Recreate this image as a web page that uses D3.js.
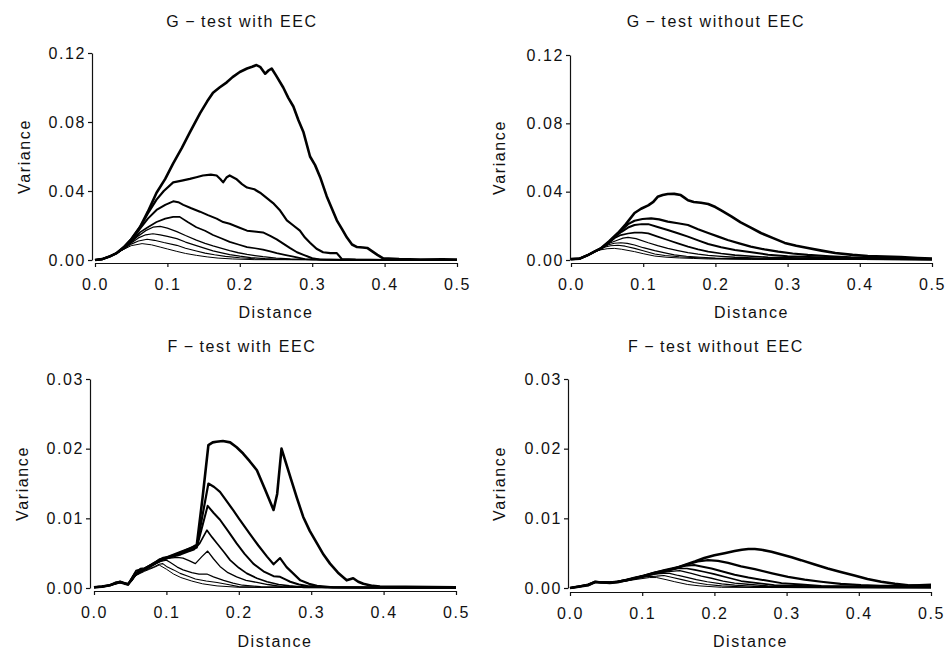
<!DOCTYPE html>
<html>
<head>
<meta charset="utf-8">
<script src="https://cdn.jsdelivr.net/npm/d3@7"></script>
<style>
  body { margin: 0; background: #fff; }
  svg { display: block; font-family: "Liberation Sans", Arial, sans-serif; }
  .tick text { font-size: 16px; letter-spacing: 1.6px; fill: #111; }
  .tick line, .domain { stroke: #111; stroke-width: 1.2; }
  .lbl { font-size: 16px; letter-spacing: 1.6px; fill: #111; }
</style>
</head>
<body>
<svg id="chart" width="948" height="652"></svg>
<script>
// tick labels
const distanceTicks = [0, 0.1, 0.2, 0.3, 0.4, 0.5];
const gTicks = [0, 0.04, 0.08, 0.12];
const fTicks = [0, 0.01, 0.02, 0.03];
const panelTitles = ["G\u2009\u2212\u2009test  with  EEC", "G\u2009\u2212\u2009test  without  EEC",
                     "F\u2009\u2212\u2009test  with  EEC", "F\u2009\u2212\u2009test  without  EEC"];

// [distance, variance] per curve, top curve first
const gWithEEC = [
  [[0,0],[.01,.0005],[.02,.002],[.03,.004],[.04,.0075],[.05,.012],[.062,.019],[.073,.028],[.085,.039],[.097,.047],[.108,.056],[.12,.065],[.131,.074],[.145,.085],[.155,.092],[.163,.097],[.172,.100],[.182,.103],[.19,.106],[.2,.109],[.21,.111],[.217,.112],[.223,.113],[.228,.112],[.235,.108],[.24,.110],[.244,.111],[.25,.107],[.26,.100],[.267,.094],[.274,.089],[.281,.081],[.288,.074],[.297,.060],[.304,.055],[.311,.048],[.32,.037],[.327,.030],[.334,.023],[.341,.018],[.348,.013],[.355,.009],[.362,.0075],[.37,.0072],[.376,.007],[.383,.005],[.39,.003],[.398,.001],[.42,.0005],[.45,.0003],[.48,.0004],[.5,.0002]],
  [[0,0],[.01,.0005],[.02,.002],[.03,.004],[.04,.0075],[.05,.012],[.062,.019],[.073,.027],[.085,.035],[.095,.040],[.108,.045],[.12,.046],[.131,.047],[.14,.048],[.149,.049],[.16,.0495],[.168,.049],[.173,.047],[.177,.045],[.182,.048],[.186,.049],[.195,.047],[.203,.044],[.21,.042],[.22,.041],[.228,.039],[.237,.036],[.246,.033],[.255,.029],[.265,.023],[.274,.020],[.283,.017],[.29,.013],[.297,.010],[.306,.0065],[.315,.0045],[.325,.004],[.334,.004],[.341,.0005],[.36,.0002],[.4,0],[.5,0]],
  [[0,0],[.01,.0005],[.02,.002],[.03,.004],[.04,.0072],[.05,.011],[.062,.018],[.073,.024],[.085,.029],[.097,.032],[.108,.034],[.115,.0335],[.122,.032],[.133,.030],[.145,.028],[.156,.026],[.168,.024],[.177,.022],[.186,.021],[.198,.019],[.21,.017],[.22,.0165],[.232,.016],[.242,.014],[.251,.012],[.26,.0095],[.269,.007],[.279,.0045],[.288,.003],[.3,.001],[.31,.0003],[.34,0],[.5,0]],
  [[0,0],[.01,.0005],[.02,.002],[.03,.004],[.04,.007],[.05,.0105],[.062,.016],[.073,.019],[.085,.022],[.097,.024],[.108,.025],[.117,.025],[.128,.022],[.14,.019],[.152,.017],[.163,.0145],[.175,.0125],[.186,.0105],[.198,.009],[.21,.0075],[.221,.0068],[.232,.006],[.242,.005],[.251,.004],[.262,.003],[.274,.002],[.29,.0005],[.32,.0002],[.5,0]],
  [[0,0],[.01,.0005],[.02,.002],[.03,.004],[.04,.0068],[.05,.0105],[.06,.014],[.07,.017],[.08,.019],[.09,.0195],[.1,.0185],[.113,.0165],[.125,.0142],[.14,.0115],[.152,.0097],[.163,.0082],[.175,.0067],[.186,.0054],[.198,.0042],[.21,.0032],[.221,.0025],[.232,.0019],[.25,.0011],[.27,.0006],[.3,.0002],[.5,0]],
  [[0,0],[.01,.0005],[.02,.002],[.03,.004],[.04,.0066],[.05,.0098],[.06,.0128],[.07,.0146],[.08,.0152],[.09,.0146],[.1,.0137],[.113,.0124],[.125,.0104],[.14,.0083],[.152,.0067],[.163,.0053],[.175,.0041],[.186,.0031],[.2,.0022],[.215,.0014],[.235,.0008],[.26,.0003],[.5,0]],
  [[0,0],[.01,.0005],[.02,.002],[.03,.004],[.04,.0064],[.05,.0092],[.06,.011],[.072,.012],[.082,.0114],[.095,.0101],[.113,.0085],[.125,.0068],[.14,.0052],[.152,.004],[.165,.003],[.18,.0021],[.2,.0013],[.22,.0007],[.25,.0003],[.5,0]],
  [[0,0],[.01,.0005],[.02,.002],[.03,.004],[.04,.0062],[.05,.0083],[.065,.0095],[.078,.0088],[.09,.0075],[.1,.0064],[.113,.005],[.125,.0038],[.14,.0027],[.155,.0018],[.17,.0011],[.19,.0006],[.22,.0002],[.5,0]]
];

const gWithoutEEC = [
  [[0,.0005],[.012,.0008],[.024,.003],[.033,.005],[.042,.007],[.053,.011],[.065,.0158],[.076,.021],[.088,.0275],[.097,.030],[.107,.032],[.114,.034],[.12,.037],[.127,.038],[.134,.0386],[.143,.0387],[.152,.038],[.157,.0365],[.162,.035],[.17,.034],[.18,.0335],[.19,.0328],[.2,.031],[.208,.029],[.222,.0255],[.235,.022],[.249,.019],[.263,.0158],[.28,.0128],[.296,.010],[.312,.0083],[.328,.007],[.347,.0055],[.366,.0041],[.39,.003],[.411,.0023],[.434,.002],[.457,.0017],[.48,.0012],[.5,.0008]],
  [[0,.0005],[.012,.0008],[.024,.003],[.033,.005],[.042,.007],[.053,.0108],[.062,.0145],[.07,.0175],[.079,.021],[.088,.023],[.099,.024],[.111,.0244],[.122,.0238],[.134,.0225],[.148,.0215],[.162,.0205],[.176,.018],[.19,.0158],[.204,.0137],[.217,.0117],[.233,.0097],[.249,.0078],[.268,.0062],[.287,.0049],[.307,.0038],[.328,.003],[.358,.0022],[.388,.0016],[.42,.0013],[.457,.001],[.5,.0006]],
  [[0,.0005],[.012,.0008],[.024,.003],[.033,.005],[.042,.0068],[.053,.0105],[.062,.014],[.07,.0165],[.079,.019],[.088,.0205],[.098,.021],[.107,.021],[.12,.0193],[.134,.0176],[.148,.0157],[.162,.0137],[.176,.0115],[.19,.0094],[.208,.0075],[.227,.0059],[.25,.0045],[.273,.0031],[.3,.0022],[.34,.0016],[.4,.001],[.45,.0008],[.5,.0005]],
  [[0,.0005],[.012,.0008],[.024,.003],[.033,.005],[.042,.0067],[.053,.0102],[.062,.0132],[.069,.0146],[.079,.0155],[.088,.016],[.098,.016],[.107,.0156],[.12,.0137],[.134,.0117],[.148,.0097],[.162,.0078],[.176,.0062],[.19,.0049],[.208,.0038],[.227,.0029],[.25,.0022],[.273,.0016],[.32,.0011],[.36,.0008],[.45,.0005],[.5,.0004]],
  [[0,.0005],[.012,.0008],[.024,.003],[.033,.005],[.042,.0066],[.053,.0098],[.065,.0117],[.072,.0128],[.079,.0133],[.09,.0125],[.107,.0101],[.12,.0084],[.134,.0068],[.148,.0055],[.162,.0043],[.176,.0034],[.19,.0027],[.208,.0021],[.227,.0016],[.26,.0011],[.29,.0008],[.35,.0006],[.5,.0003]],
  [[0,.0005],[.012,.0008],[.024,.003],[.033,.005],[.042,.0065],[.051,.0088],[.06,.0098],[.069,.0101],[.078,.0097],[.088,.0088],[.1,.0072],[.116,.0055],[.13,.0042],[.143,.003],[.16,.0022],[.18,.0016],[.2,.0011],[.23,.0008],[.3,.0005],[.5,.0002]],
  [[0,.0005],[.012,.0008],[.024,.003],[.033,.005],[.046,.0075],[.055,.0083],[.065,.0086],[.075,.0081],[.088,.0068],[.1,.0054],[.116,.0035],[.13,.0026],[.15,.0019],[.17,.0014],[.19,.001],[.22,.0007],[.3,.0004],[.5,.0002]],
  [[0,.0005],[.012,.0008],[.024,.003],[.033,.005],[.042,.006],[.05,.0066],[.06,.0068],[.07,.0063],[.088,.0049],[.1,.0037],[.116,.0023],[.133,.0016],[.15,.0012],[.17,.0009],[.19,.0006],[.25,.0004],[.5,.0002]]
];

const fWithEEC = [
  [[0,.0001],[.011,.0002],[.022,.0004],[.03,.0007],[.036,.0009],[.042,.0007],[.047,.0005],[.052,.0012],[.056,.0019],[.062,.0022],[.068,.0026],[.075,.003],[.082,.0035],[.09,.004],[.096,.0043],[.105,.0045],[.114,.0048],[.125,.0053],[.137,.0059],[.142,.0062],[.15,.013],[.158,.0205],[.164,.0209],[.169,.021],[.178,.0211],[.188,.0209],[.197,.0202],[.206,.0193],[.215,.0182],[.225,.0169],[.236,.0142],[.248,.0112],[.253,.0135],[.259,.020],[.262,.019],[.271,.016],[.28,.013],[.289,.0102],[.298,.0082],[.308,.0064],[.317,.0048],[.326,.0035],[.337,.0022],[.349,.0011],[.358,.0014],[.365,.0009],[.372,.0006],[.385,.0003],[.395,.0002],[.5,.0001]],
  [[0,.0001],[.011,.0002],[.022,.0004],[.03,.0008],[.036,.0008],[.042,.0006],[.047,.0005],[.052,.0013],[.057,.0021],[.063,.0024],[.069,.0027],[.076,.003],[.083,.0034],[.09,.0039],[.096,.0042],[.105,.0046],[.12,.0052],[.13,.0056],[.142,.006],[.15,.0105],[.158,.015],[.166,.0145],[.174,.0138],[.183,.0125],[.192,.0112],[.2,.01],[.215,.0078],[.227,.0061],[.239,.0045],[.248,.0034],[.257,.0043],[.266,.003],[.275,.0021],[.285,.0011],[.297,.0006],[.308,.0003],[.33,.0001],[.5,0]],
  [[0,.0001],[.011,.0002],[.022,.0004],[.03,.0007],[.036,.0009],[.042,.0007],[.047,.0006],[.052,.0011],[.057,.0018],[.063,.0023],[.07,.0028],[.077,.0032],[.084,.0035],[.09,.0038],[.097,.0041],[.105,.0044],[.12,.005],[.135,.0055],[.142,.0058],[.15,.009],[.157,.0118],[.165,.0108],[.174,.0098],[.185,.0082],[.197,.0064],[.208,.0049],[.22,.0035],[.234,.0024],[.248,.0017],[.257,.0016],[.265,.0012],[.271,.0009],[.283,.0005],[.295,.0003],[.32,.0001],[.5,0]],
  [[0,.0001],[.011,.0002],[.022,.0004],[.03,.0006],[.036,.0008],[.042,.0007],[.047,.0005],[.052,.0014],[.058,.0025],[.064,.0027],[.07,.0026],[.077,.0031],[.084,.0036],[.09,.0041],[.097,.0043],[.105,.0044],[.12,.0048],[.13,.0052],[.138,.0055],[.146,.0064],[.156,.0083],[.163,.0073],[.17,.0064],[.18,.0051],[.188,.004],[.2,.0029],[.211,.0021],[.225,.0014],[.239,.0009],[.255,.0005],[.27,.0003],[.29,.0001],[.5,0]],
  [[0,.0001],[.011,.0002],[.022,.0004],[.03,.0007],[.036,.0009],[.042,.0007],[.047,.0006],[.052,.0012],[.058,.0022],[.064,.0028],[.07,.0029],[.077,.0033],[.084,.0037],[.09,.004],[.097,.0042],[.105,.0043],[.115,.0044],[.123,.0043],[.132,.0039],[.14,.0035],[.149,.0045],[.157,.0053],[.165,.0042],[.174,.0031],[.185,.0022],[.197,.0016],[.21,.0011],[.225,.0008],[.24,.0005],[.26,.0002],[.5,0]],
  [[0,.0001],[.011,.0002],[.022,.0004],[.03,.0007],[.036,.0008],[.042,.0007],[.047,.0005],[.052,.0011],[.058,.002],[.064,.0024],[.07,.0027],[.077,.003],[.084,.0034],[.092,.0038],[.1,.004],[.105,.0037],[.115,.003],[.123,.0026],[.135,.0022],[.145,.002],[.156,.002],[.165,.0016],[.179,.0011],[.192,.0007],[.205,.0004],[.23,.0002],[.5,0]],
  [[0,.0001],[.011,.0002],[.022,.0004],[.03,.0006],[.036,.0008],[.042,.0006],[.047,.0005],[.052,.0012],[.058,.0019],[.064,.0022],[.07,.0025],[.077,.0028],[.084,.0031],[.09,.0034],[.095,.0035],[.1,.0031],[.11,.0026],[.119,.0021],[.13,.0017],[.14,.0013],[.155,.001],[.17,.0008],[.185,.0005],[.2,.0002],[.23,.0001],[.5,0]],
  [[0,.0001],[.011,.0002],[.022,.0004],[.03,.0007],[.036,.0008],[.042,.0007],[.047,.0005],[.052,.001],[.058,.0018],[.064,.0021],[.07,.0024],[.077,.0027],[.084,.003],[.09,.0033],[.1,.0027],[.11,.002],[.12,.0015],[.135,.001],[.15,.0006],[.17,.0003],[.2,.0001],[.5,0]]
];

const fWithoutEEC = [
  [[0,0],[.012,.0002],[.025,.0004],[.035,.0009],[.043,.0008],[.055,.0008],[.066,.0009],[.078,.0011],[.09,.0014],[.103,.0017],[.117,.0021],[.131,.0024],[.145,.0028],[.159,.0033],[.173,.0038],[.186,.0043],[.2,.0047],[.214,.005],[.228,.0053],[.238,.0055],[.247,.0056],[.256,.0056],[.265,.0055],[.279,.0052],[.293,.0048],[.307,.0044],[.32,.004],[.338,.0034],[.357,.0028],[.375,.0023],[.394,.0018],[.412,.0013],[.431,.0009],[.45,.0006],[.468,.0004],[.485,.0003],[.5,.0004]],
  [[0,0],[.012,.0002],[.025,.0005],[.035,.0009],[.043,.0008],[.055,.0007],[.066,.0008],[.078,.0011],[.09,.0014],[.103,.0018],[.117,.0022],[.131,.0025],[.145,.0028],[.163,.0034],[.177,.0038],[.191,.004],[.205,.0039],[.219,.0036],[.237,.0031],[.256,.0027],[.28,.0021],[.302,.0016],[.325,.0012],[.348,.0009],[.375,.0006],[.403,.0004],[.43,.0003],[.46,.0003],[.5,.0005]],
  [[0,0],[.012,.0002],[.025,.0004],[.035,.0008],[.043,.0008],[.055,.0008],[.066,.0009],[.078,.0012],[.09,.0015],[.103,.0018],[.117,.0022],[.131,.0026],[.145,.0029],[.16,.0032],[.172,.0033],[.182,.0031],[.196,.0028],[.21,.0024],[.228,.0019],[.247,.0015],[.27,.0011],[.293,.0007],[.32,.0005],[.348,.0003],[.4,.0002],[.46,.0002],[.5,.0003]],
  [[0,0],[.012,.0002],[.025,.0005],[.035,.0009],[.043,.0009],[.055,.0008],[.066,.0009],[.078,.0011],[.09,.0014],[.103,.0018],[.117,.0021],[.131,.0025],[.15,.0028],[.162,.0028],[.173,.0026],[.187,.0023],[.2,.002],[.218,.0015],[.237,.001],[.26,.0007],[.283,.0004],[.32,.0003],[.35,.0002],[.5,.0002]],
  [[0,0],[.012,.0002],[.025,.0004],[.035,.0009],[.043,.0008],[.055,.0008],[.066,.001],[.078,.0012],[.09,.0015],[.103,.0018],[.117,.0021],[.14,.0024],[.152,.0025],[.168,.0021],[.182,.0017],[.196,.0014],[.212,.001],[.228,.0007],[.25,.0005],[.274,.0003],[.3,.0002],[.5,.0001]],
  [[0,0],[.012,.0002],[.025,.0005],[.035,.0008],[.043,.0008],[.055,.0008],[.066,.0009],[.078,.0011],[.09,.0014],[.103,.0017],[.117,.002],[.13,.0021],[.138,.0021],[.15,.0018],[.159,.0016],[.175,.0012],[.19,.0009],[.21,.0006],[.228,.0004],[.26,.0002],[.5,.0001]],
  [[0,0],[.012,.0002],[.025,.0004],[.035,.0009],[.043,.0009],[.055,.0008],[.066,.0009],[.078,.0011],[.09,.0013],[.103,.0016],[.12,.0017],[.13,.0018],[.142,.0015],[.155,.0012],[.172,.0008],[.19,.0005],[.21,.0003],[.25,.0001],[.5,0]],
  [[0,0],[.012,.0002],[.025,.0004],[.035,.0008],[.043,.0008],[.055,.0007],[.066,.0009],[.078,.001],[.09,.0012],[.11,.0015],[.12,.0015],[.133,.0012],[.145,.0009],[.163,.0005],[.18,.0003],[.21,.0001],[.5,0]]
];

const lineWidths = [2.6, 2.2, 2.0, 1.7, 1.3, 1.2, 1.1, 1.0];

// panel layout (pixels)
const panels = [
  { title: panelTitles[0], series: gWithEEC, ticks: gTicks, yMax: 0.12, xr: [95, 457], yr: [260, 53], axX: 92, axY: 263, cx: 242, ty: 27, vx: 30, dy: 318 },
  { title: panelTitles[1], series: gWithoutEEC, ticks: gTicks, yMax: 0.12, xr: [571, 932], yr: [260, 55], axX: 570, axY: 263, cx: 716, ty: 27, vx: 505, dy: 318 },
  { title: panelTitles[2], series: fWithEEC, ticks: fTicks, yMax: 0.03, xr: [94, 456], yr: [588, 379], axX: 90, axY: 591, cx: 242, ty: 352, vx: 28, dy: 647 },
  { title: panelTitles[3], series: fWithoutEEC, ticks: fTicks, yMax: 0.03, xr: [570, 931], yr: [588, 379], axX: 568, axY: 592, cx: 716, ty: 352, vx: 505, dy: 647 }
];

const svg = d3.select('#chart');

panels.forEach(p => {
  const x = d3.scaleLinear().domain([0, 0.5]).range(p.xr);
  const y = d3.scaleLinear().domain([0, p.yMax]).range(p.yr);
  const g = svg.append('g');

  // axes
  g.append('g')
    .attr('transform', `translate(${p.axX},0)`)
    .call(d3.axisLeft(y).tickValues(p.ticks).tickFormat(d3.format('.2f')).tickSize(4).tickSizeOuter(0).tickPadding(2));
  g.append('g')
    .attr('transform', `translate(0,${p.axY})`)
    .call(d3.axisBottom(x).tickValues(distanceTicks).tickFormat(d3.format('.1f')).tickSize(4).tickSizeOuter(0).tickPadding(12));

  // curves, thin ones first
  const line = d3.line().x(d => x(d[0])).y(d => y(d[1]));
  g.append('g')
    .selectAll('path')
    .data(p.series.map((s, i) => ({ s, i })).reverse())
    .join('path')
    .attr('d', d => line(d.s))
    .attr('fill', 'none')
    .attr('stroke', '#000')
    .attr('stroke-width', d => lineWidths[d.i])
    .attr('stroke-linejoin', 'round');

  // labels
  g.append('text').attr('class', 'lbl')
    .attr('x', p.cx).attr('y', p.ty)
    .attr('text-anchor', 'middle')
    .text(p.title);
  g.append('text').attr('class', 'lbl')
    .attr('x', (p.xr[0] + p.xr[1]) / 2).attr('y', p.dy)
    .attr('text-anchor', 'middle')
    .text('Distance');
  g.append('text').attr('class', 'lbl')
    .attr('transform', `translate(${p.vx},${(p.yr[0] + p.yr[1]) / 2}) rotate(-90)`)
    .attr('text-anchor', 'middle')
    .text('Variance');
});
</script>
</body>
</html>
